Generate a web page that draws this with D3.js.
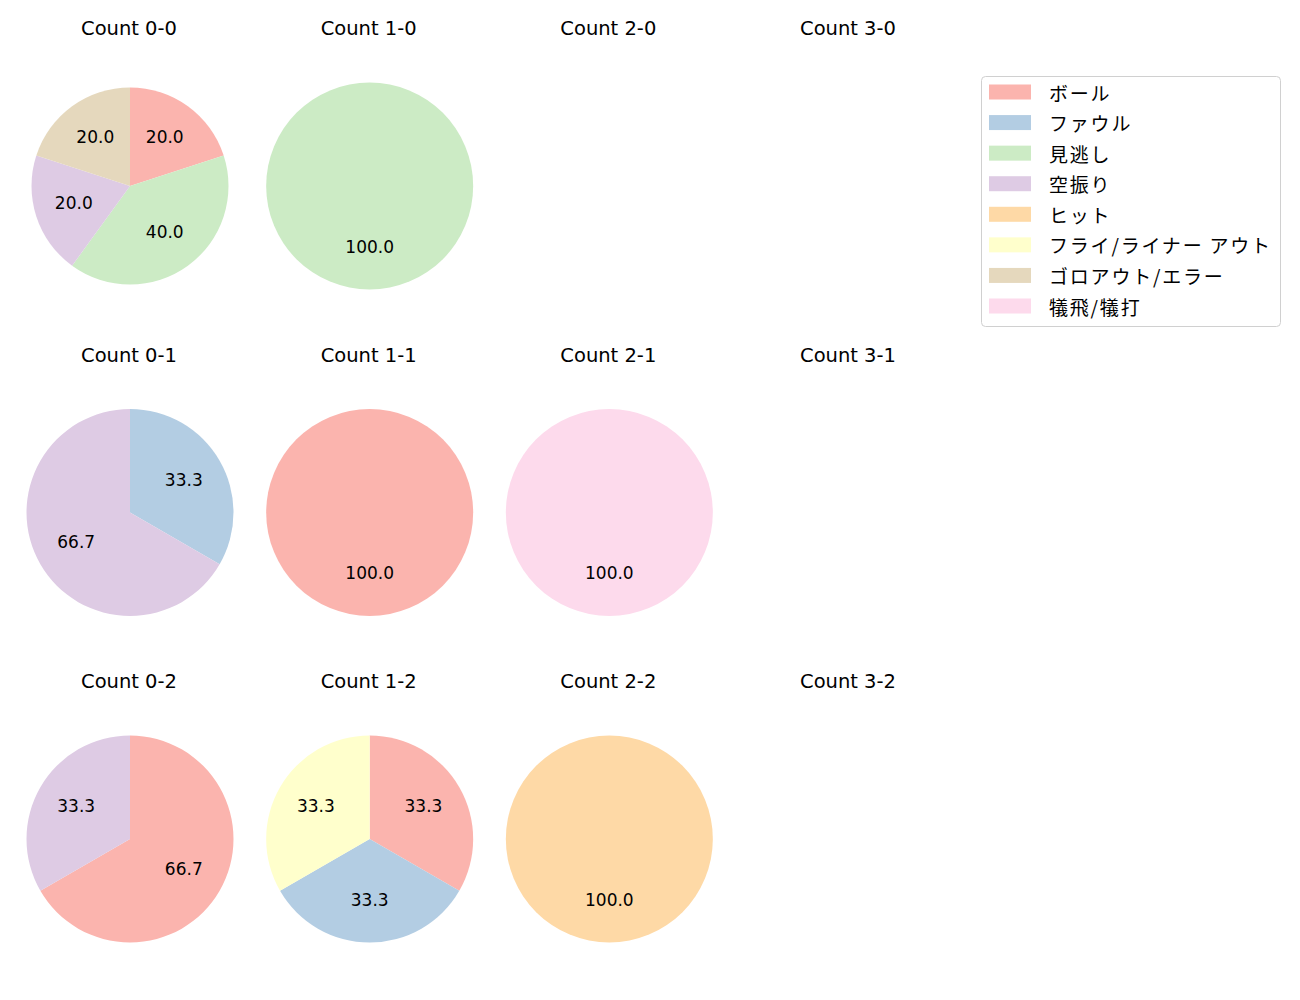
<!DOCTYPE html>
<html><head><meta charset="utf-8">
<script src="https://cdn.jsdelivr.net/npm/d3@7"></script>
<style>body{margin:0;background:#fff}text{font-family:"DejaVu Sans","Noto Sans CJK JP",sans-serif;fill:#000}
.lgt{font-family:"Noto Sans CJK JP",sans-serif}</style>
</head><body><svg id="c" width="1300" height="1000"></svg>
<script>
const categories = ["ボール","ファウル","見逃し","空振り","ヒット","フライ/ライナー アウト","ゴロアウト/エラー","犠飛/犠打"];
const colors = ["#fbb4ae","#b3cde3","#ccebc5","#decbe4","#fed9a6","#ffffcc","#e5d8bd","#fddaec"];
const countLabels = ["0-0","1-0","2-0","3-0","0-1","1-1","2-1","3-1","0-2","1-2","2-2","3-2"];
// counts per category, in category order
const counts = {
  "0-0": [1,0,2,1,0,0,1,0],
  "1-0": [0,0,1,0,0,0,0,0],
  "2-0": [0,0,0,0,0,0,0,0],
  "3-0": [0,0,0,0,0,0,0,0],
  "0-1": [0,1,0,2,0,0,0,0],
  "1-1": [1,0,0,0,0,0,0,0],
  "2-1": [0,0,0,0,0,0,0,1],
  "3-1": [0,0,0,0,0,0,0,0],
  "0-2": [2,0,0,1,0,0,0,0],
  "1-2": [1,1,0,0,0,1,0,0],
  "2-2": [0,0,0,0,1,0,0,0],
  "3-2": [0,0,0,0,0,0,0,0]
};

const svg = d3.select("#c");
const colX = d3.scalePoint().domain([0,1,2,3]).range([130,849]);
const rowY = d3.scalePoint().domain([0,1,2]).range([186,839]);
const color = d3.scaleOrdinal().domain(categories).range(colors);
const pie = d3.pie().sort(null).value(d=>d.v);

countLabels.forEach((key,i)=>{
  const c = i%4, r = Math.floor(i/4);
  const cx = colX(c), cy = rowY(r);
  const g = svg.append("g").attr("transform",`translate(${cx},${cy})`);
  g.append("text").attr("x",-1).attr("y",-151).attr("text-anchor","middle")
    .style("font-size","19.5px").text("Count "+key);
  const data = categories.map((k,j)=>({k, v:counts[key][j]})).filter(d=>d.v>0);
  if(!data.length) return;
  const total = d3.sum(data,d=>d.v);
  const R = key==="0-0" ? 98.5 : 103.5;
  const arc = d3.arc().innerRadius(0).outerRadius(R);
  const arcs = pie(data);
  g.selectAll("path").data(arcs).join("path").attr("d",arc).attr("fill",d=>color(d.data.k));
  const la = d3.arc().innerRadius(R*0.6).outerRadius(R*0.6);
  g.selectAll("text.l").data(arcs).join("text").attr("class","l")
    .attr("transform",d=>{const p=la.centroid(d);return `translate(${p[0]},${p[1]+4.5})`;})
    .attr("text-anchor","middle")
    .style("font-size","17px").text(d=>(d.data.v/total*100).toFixed(1));
});

// legend
const lg = svg.append("g");
lg.append("rect").attr("x",981.5).attr("y",76.5).attr("width",299).attr("height",250).attr("rx",4)
  .attr("fill","#fff").attr("stroke","#d0d0d0");
const ly = d3.scalePoint().domain(categories).range([92,306]);
categories.forEach(k=>{
  lg.append("rect").attr("x",989).attr("y",ly(k)-7.5).attr("width",42).attr("height",15).attr("fill",color(k));
  lg.append("text").attr("class","lgt").attr("x",1049).attr("y",ly(k)).attr("dominant-baseline","central")
    .style("font-size","19px").style("letter-spacing","1.8px").text(k);
});
</script></body></html>
